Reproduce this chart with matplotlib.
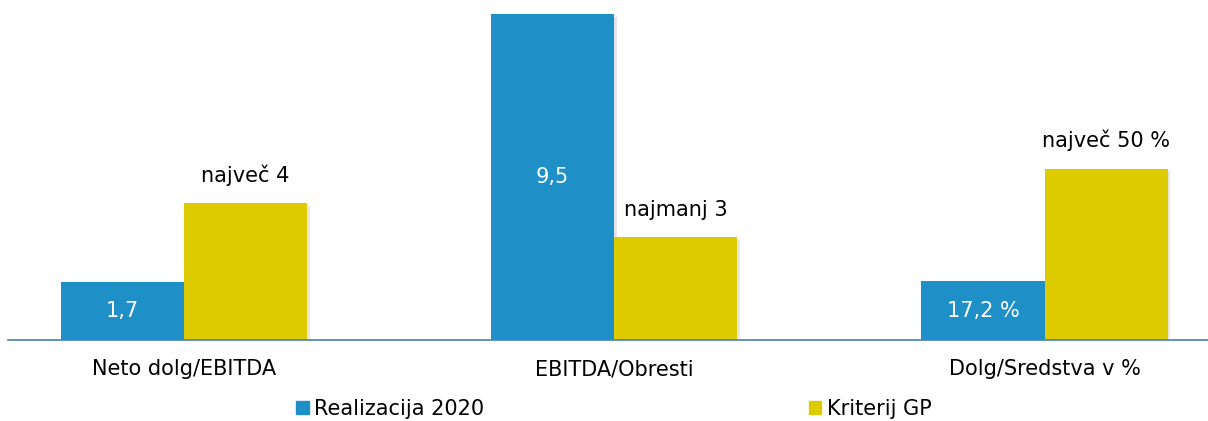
import numpy as np
import matplotlib.pyplot as plt
import matplotlib.patheffects as pe
from matplotlib.patches import Patch

categories = ['Neto dolg/EBITDA', 'EBITDA/Obresti', 'Dolg/Sredstva v %']
# third group is in %, drawn at 1/10 scale like the original chart
realizacija = [1.7, 9.5, 1.72]
kriterij = [4.0, 3.0, 5.0]
real_labels = ['1,7', '9,5', '17,2 %']
krit_labels = ['največ 4', 'najmanj 3', 'največ 50 %']
series_names = ['Realizacija 2020', 'Kriterij GP']

blue = '#1F8FC8'
gold = '#DDCB00'

plt.rcParams['font.family'] = ['DejaVu Sans']
fs = 15

fig = plt.figure(figsize=(12.08, 4.21), dpi=100)
ax = fig.add_axes([8 / 1208, 81 / 421, 1200 / 1208, 340 / 421])

x = np.arange(len(categories))
w = 0.286
shadow = [pe.SimplePatchShadow(offset=(2, -2), alpha=0.12), pe.Normal()]
b1 = ax.bar(x - w / 2, realizacija, w, color=blue, path_effects=shadow, zorder=2)
b2 = ax.bar(x + w / 2, kriterij, w, color=gold, path_effects=shadow, zorder=2)

for rect, lab in zip(b1, real_labels):
    ax.text(rect.get_x() + rect.get_width() / 2, rect.get_height() / 2, lab,
            ha='center', va='center', color='white', fontsize=fs)
for rect, lab in zip(b2, krit_labels):
    ax.text(rect.get_x() + rect.get_width() / 2, rect.get_height() + 0.5, lab,
            ha='center', va='bottom', color='black', fontsize=fs)

ax.set_xlim(-0.409, 2.38)
ax.set_ylim(0, 340 / 34.3)
for s in ['top', 'right', 'left']:
    ax.spines[s].set_visible(False)
ax.spines['bottom'].set_color('#4A7EBB')
ax.spines['bottom'].set_linewidth(1.2)
ax.set_yticks([])
ax.set_xticks(x)
ax.set_xticklabels(categories, fontsize=fs)
ax.tick_params(axis='x', length=0, pad=14)

handles = [Patch(color=blue), Patch(color=gold)]
fig.legend(handles, series_names, loc='center left', bbox_to_anchor=(296 / 1208, 12 / 421),
           ncol=2, frameon=False, fontsize=fs, handlelength=0.6, handleheight=0.6,
           handletextpad=0.25, columnspacing=15.6, borderpad=0, borderaxespad=0)

plt.savefig('out.png', dpi=100)
